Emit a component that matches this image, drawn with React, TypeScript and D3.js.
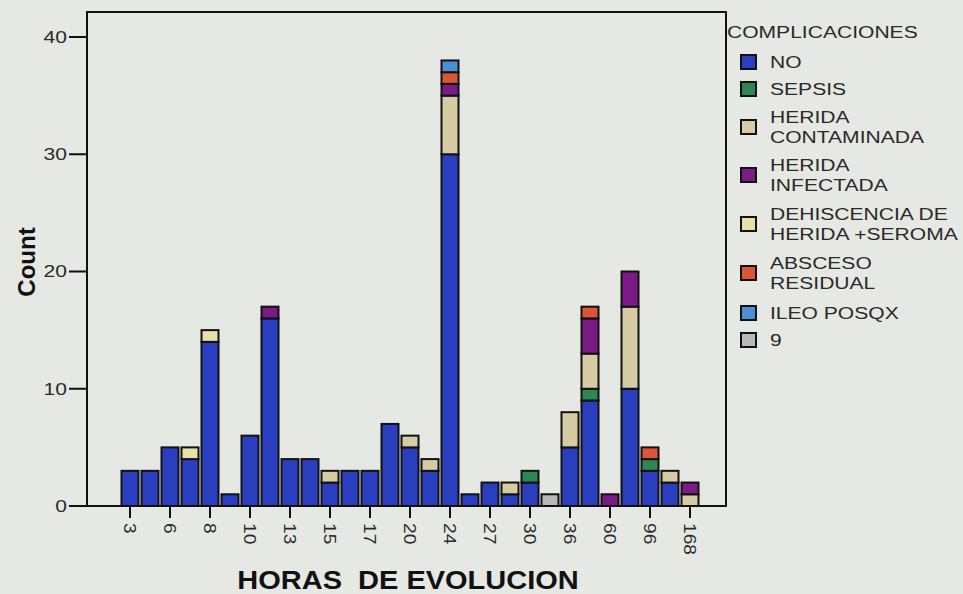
import React from "react";
import * as d3 from "d3";

const categories = ["3","4","6","7","8","9","10","12","13","14","15","16","17","18","20","22","24","26","27","28","30","32","36","48","60","72","96","120","168"];
const labeledTicks = ["3","6","8","10","13","15","17","20","24","27","30","36","60","96","168"];

const seriesNames = ["NO","SEPSIS","HERIDA CONTAMINADA","HERIDA INFECTADA","DEHISCENCIA DE HERIDA +SEROMA","ABSCESO RESIDUAL","ILEO POSQX","9"];
const legendLines = [["NO"],["SEPSIS"],["HERIDA","CONTAMINADA"],["HERIDA","INFECTADA"],["DEHISCENCIA DE","HERIDA +SEROMA"],["ABSCESO","RESIDUAL"],["ILEO POSQX"],["9"]];
const colors = ["#2a3fc0","#2e8653","#d6cca4","#7b1c86","#e4e2a6","#dc5535","#4a8fd6","#b9b9bd"];

const NO =          [3,3,5,4,14,1,6,16,4,4,2,3,3,7,5,3,30,1,2,1,2,0,5,9,0,10,3,2,0];
const SEPSIS =      [0,0,0,0,0,0,0,0,0,0,0,0,0,0,0,0,0,0,0,0,1,0,0,1,0,0,1,0,0];
const CONTAMINADA = [0,0,0,0,0,0,0,0,0,0,1,0,0,0,1,1,5,0,0,1,0,0,3,3,0,7,0,1,1];
const INFECTADA =   [0,0,0,0,0,0,0,1,0,0,0,0,0,0,0,0,1,0,0,0,0,0,0,3,1,3,0,0,1];
const DEHISCENCIA = [0,0,0,1,1,0,0,0,0,0,0,0,0,0,0,0,0,0,0,0,0,0,0,0,0,0,0,0,0];
const ABSCESO =     [0,0,0,0,0,0,0,0,0,0,0,0,0,0,0,0,1,0,0,0,0,0,0,1,0,0,1,0,0];
const ILEO =        [0,0,0,0,0,0,0,0,0,0,0,0,0,0,0,0,1,0,0,0,0,0,0,0,0,0,0,0,0];
const NUEVE =       [0,0,0,0,0,0,0,0,0,0,0,0,0,0,0,0,0,0,0,0,0,1,0,0,0,0,0,0,0];

const yTicks = [0, 10, 20, 30, 40];

const W = 963, H = 594;
const frame = { left: 87, right: 726, top: 12, bottom: 506 };
const txt = "#2a2a2a";

function T(props: { x: number; y: number; rot?: number; sx?: number; size: number; anchor?: string; bold?: boolean; dy?: string; children: any; fill?: string }) {
  const { x, y, rot = 0, sx = 1, size, anchor = "start", bold, dy, children, fill = txt } = props;
  return (
    <g transform={`translate(${x},${y}) rotate(${rot}) scale(${sx},1)`}>
      <text x={0} y={0} dy={dy} textAnchor={anchor} fontSize={size} fontWeight={bold ? "bold" : "normal"} fill={fill} style={{ whiteSpace: "pre" }}>
        {children}
      </text>
    </g>
  );
}

export default function App() {
  const series = [NO, SEPSIS, CONTAMINADA, INFECTADA, DEHISCENCIA, ABSCESO, ILEO, NUEVE];
  const table = categories.map((c, i) => {
    const row: any = { cat: c };
    seriesNames.forEach((s, k) => (row[s] = series[k][i]));
    return row;
  });
  const stack = d3.stack<any>().keys(seriesNames)(table);

  const x = d3.scaleBand<string>().domain(categories).range([120, 700]).paddingInner(0.15).paddingOuter(0.075);
  const y = d3.scaleLinear().domain([0, 40]).range([506, 37]);

  const font = "'Liberation Sans', Arial, Helvetica, sans-serif";

  return (
    <svg width={W} height={H} style={{ position: "absolute", left: 0, top: 0, background: "#e6e8e3" }} fontFamily={font}>
      <rect x={0} y={0} width={W} height={H} fill="#e6e8e3" />
      {stack.map((layer, k) => (
        <g key={k}>
          {layer.map((d, i) =>
            d[1] - d[0] > 0 ? (
              <rect
                key={i}
                x={x(categories[i])!}
                y={y(d[1])}
                width={x.bandwidth()}
                height={y(d[0]) - y(d[1])}
                fill={colors[k]}
                stroke="#111"
                strokeWidth={2}
              />
            ) : null
          )}
        </g>
      ))}
      <rect x={frame.left} y={frame.top} width={frame.right - frame.left} height={frame.bottom - frame.top} fill="none" stroke="#111" strokeWidth={2} />
      {yTicks.map((t) => (
        <g key={t}>
          <line x1={69} x2={frame.left} y1={y(t)} y2={y(t)} stroke="#111" strokeWidth={2} />
          <T x={67} y={y(t)} dy="0.35em" anchor="end" size={17} sx={1.24}>{String(t)}</T>
        </g>
      ))}
      <T x={35} y={262} rot={-90} anchor="middle" size={24} bold fill="#111">Count</T>
      {labeledTicks.map((c) => {
        const cx = x(c)! + x.bandwidth() / 2;
        return (
          <g key={c}>
            <line x1={cx} x2={cx} y1={frame.bottom} y2={518} stroke="#111" strokeWidth={2} />
            <T x={cx} y={523} rot={90} dy="0.35em" size={16} sx={1.2}>{c}</T>
          </g>
        );
      })}
      <T x={408} y={589} anchor="middle" size={25} sx={1.16} bold fill="#111">{"HORAS\u00a0\u00a0DE EVOLUCION"}</T>
      <T x={727} y={38} size={17} sx={1.24}>COMPLICACIONES</T>
      {legendLines.map((lines, k) => {
        const centers = [62, 89, 127, 175, 224, 273, 313, 340];
        const cy = centers[k];
        return (
          <g key={k}>
            <rect x={741} y={cy - 7} width={15} height={14} fill={colors[k]} stroke="#111" strokeWidth={2} />
            {lines.map((l, j) => (
              <T key={j} x={770} y={cy + (j - (lines.length - 1) / 2) * 19.5} dy="0.36em" size={17} sx={1.24}>{l}</T>
            ))}
          </g>
        );
      })}
    </svg>
  );
}
